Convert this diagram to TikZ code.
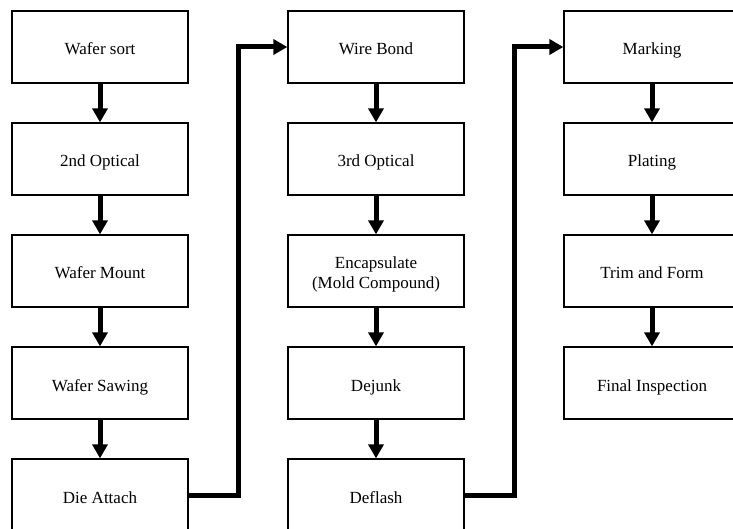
\documentclass[tikz,border=0pt]{standalone}
\usepackage{fontspec}
\setmainfont{Liberation Serif}
\usetikzlibrary{positioning,arrows.meta}
\tikzset{
  stage/.style={draw, line width=1.3pt, minimum width=176pt, minimum height=72pt,
    inner sep=2pt, align=center, text height=20pt, text depth=4pt,
    font=\fontsize{17}{20}\selectfont},
  flow/.style={line width=5pt, line join=miter,
    -{Triangle[width=15pt,length=14pt]}}
}
\begin{document}
\begin{tikzpicture}[node distance=38.7pt and 98.7pt]
  \path[use as bounding box, clip] (0,0) rectangle (733pt,-529pt);
  \node[stage] (ws) at (100pt,-47pt) {Wafer sort};
  \node[stage, below=of ws] (opt2) {2nd Optical};
  \node[stage, below=of opt2] (mount) {Wafer Mount};
  \node[stage, below=of mount] (saw) {Wafer Sawing};
  \node[stage, below=of saw] (die) {Die Attach};

  \node[stage, right=of ws] (wire) {Wire Bond};
  \node[stage, below=of wire] (opt3) {3rd Optical};
  \node[stage, below=of opt3, text height=38pt] (encap) {Encapsulate\\(Mold Compound)};
  \node[stage, below=of encap] (dejunk) {Dejunk};
  \node[stage, below=of dejunk] (deflash) {Deflash};

  \node[stage, right=of wire] (mark) {Marking};
  \node[stage, below=of mark] (plate) {Plating};
  \node[stage, below=of plate] (trim) {Trim and Form};
  \node[stage, below=of trim] (final) {Final Inspection};

  \draw[flow] (ws) -- (opt2);
  \draw[flow] (opt2) -- (mount);
  \draw[flow] (mount) -- (saw);
  \draw[flow] (saw) -- (die);
  \draw[flow] (die.east) -- ++(50pt,0) |- (wire.west);

  \draw[flow] (wire) -- (opt3);
  \draw[flow] (opt3) -- (encap);
  \draw[flow] (encap) -- (dejunk);
  \draw[flow] (dejunk) -- (deflash);
  \draw[flow] (deflash.east) -- ++(50pt,0) |- (mark.west);

  \draw[flow] (mark) -- (plate);
  \draw[flow] (plate) -- (trim);
  \draw[flow] (trim) -- (final);
\end{tikzpicture}
\end{document}
